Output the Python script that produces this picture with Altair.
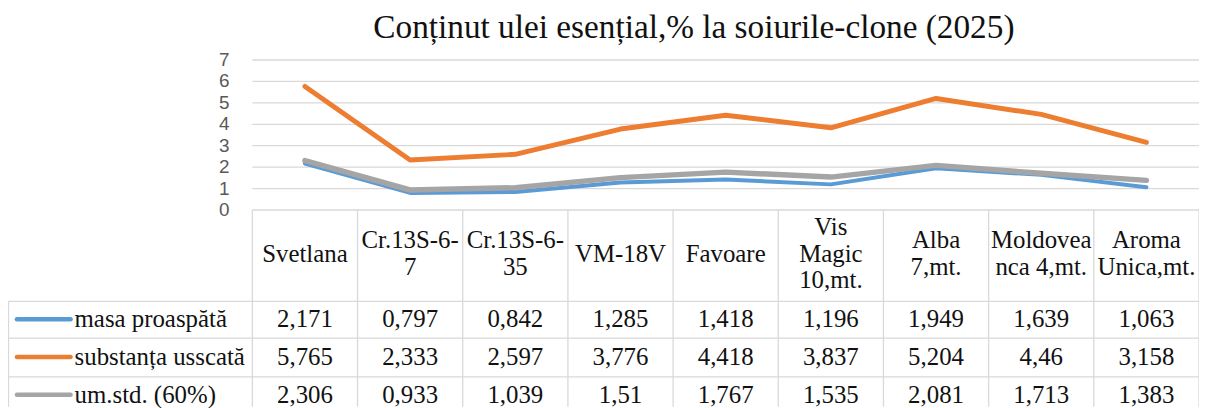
import altair as alt
import pandas as pd

# ---------------- data ----------------
categories = ["Svetlana", "Cr.13S-6-\n7", "Cr.13S-6-\n35", "VM-18V", "Favoare",
              "Vis\nMagic\n10,mt.", "Alba\n7,mt.", "Moldovea\nnca 4,mt.", "Aroma\nUnica,mt."]
series_names = ["masa proaspătă", "substanța usscată", "um.std. (60%)"]
masa = [2.171, 0.797, 0.842, 1.285, 1.418, 1.196, 1.949, 1.639, 1.063]
subst = [5.765, 2.333, 2.597, 3.776, 4.418, 3.837, 5.204, 4.46, 3.158]
umstd = [2.306, 0.933, 1.039, 1.51, 1.767, 1.535, 2.081, 1.713, 1.383]
y_ticks = [0, 1, 2, 3, 4, 5, 6, 7]
colors = ["#5B9BD5", "#ED7D31", "#A5A5A5"]
widths = [4, 5, 5.5]
title_text = "Conținut ulei esențial,% la soiurile-clone (2025)"

series_values = [masa, subst, umstd]

# ---------------- layout helpers ----------------
W, H, PAD_TOP = 1199, 360, 40
XPX = (1207 - 254) / 9.0          # px per category column
YPX = 151 / 7.0                   # px per unit on value axis
XL = -(254 - 8) / XPX             # left edge (legend column)
Y_TOP = 7 + (59 - 48) / YPX
Y_BOT = -(408 - 210) / YPX
LH = 27


def yu(p):
    return (210 - p) / YPX


def xu(p):
    return (p - 254) / XPX


xs = alt.Scale(domain=[XL, 9], nice=False, zero=False)
ys = alt.Scale(domain=[Y_BOT, Y_TOP], nice=False, zero=False)
GRID = "#D9D9D9"
SERIF = "Liberation Serif"
TXT = "#111111"

# gridlines
grid_df = pd.DataFrame({"y": y_ticks, "x": [0] * len(y_ticks), "x2": [9] * len(y_ticks)})
grid = alt.Chart(grid_df).mark_rule(color=GRID, strokeWidth=1.3).encode(
    x=alt.X("x:Q", scale=xs, axis=None), x2="x2:Q",
    y=alt.Y("y:Q", scale=ys, axis=None))

# y tick labels
ytl = alt.Chart(pd.DataFrame({"y": y_ticks, "x": [0] * len(y_ticks)})).mark_text(
    align="right", baseline="middle", dx=-23, font="Liberation Sans", fontSize=19,
    color="#595959").encode(
    x=alt.X("x:Q", scale=xs, axis=None), y=alt.Y("y:Q", scale=ys, axis=None),
    text=alt.Text("y:Q"))

# table lines
row_bounds = [302, 339, 378]
h_df = pd.DataFrame({"y": [yu(p) for p in row_bounds],
                     "x": [xu(8.5)] * 3, "x2": [9] * 3})
h_lines = alt.Chart(h_df).mark_rule(color=GRID, strokeWidth=1.3).encode(
    x=alt.X("x:Q", scale=xs, axis=None), x2="x2:Q",
    y=alt.Y("y:Q", scale=ys, axis=None))
v_x = list(range(0, 10)) + [xu(8.5)]
v_y = [0] * 10 + [yu(302)]
v_df = pd.DataFrame({"x": v_x, "y": v_y, "y2": [Y_BOT] * len(v_x)})
v_lines = alt.Chart(v_df).mark_rule(color=GRID, strokeWidth=1.3).encode(
    x=alt.X("x:Q", scale=xs, axis=None),
    y=alt.Y("y:Q", scale=ys, axis=None), y2="y2:Q")

# header labels (first line placed so the block is centred in the cell)
hdr_df = pd.DataFrame({
    "x": [i + 0.5 for i in range(len(categories))],
    "y": [yu(254 - (c.count("\n")) * LH / 2.0) for c in categories],
    "t": categories})
hdr = alt.Chart(hdr_df).mark_text(font=SERIF, fontSize=25, color=TXT,
                                  baseline="middle", align="center",
                                  lineBreak="\n", lineHeight=LH).encode(
    x=alt.X("x:Q", scale=xs, axis=None), y=alt.Y("y:Q", scale=ys, axis=None),
    text="t:N")

# table values
row_centers = [320, 358, 396]
rows = []
for r, vals in enumerate(series_values):
    for i, v in enumerate(vals):
        rows.append({"x": i + 0.5, "y": yu(row_centers[r]),
                     "t": str(v).replace(".", ",")})
val_df = pd.DataFrame(rows)
vals_txt = alt.Chart(val_df).mark_text(font=SERIF, fontSize=25, color=TXT,
                                       baseline="middle", align="center").encode(
    x=alt.X("x:Q", scale=xs, axis=None), y=alt.Y("y:Q", scale=ys, axis=None),
    text="t:N")

# legend column
leg_layers = []
for r, name in enumerate(series_names):
    ldf = pd.DataFrame({"x": [xu(17)], "x2": [xu(71)], "y": [yu(row_centers[r])],
                        "tx": [xu(75)], "t": [name]})
    leg_layers.append(alt.Chart(ldf).mark_rule(color=colors[r], strokeWidth=4.5,
                                               strokeCap="round").encode(
        x=alt.X("x:Q", scale=xs, axis=None), x2="x2:Q",
        y=alt.Y("y:Q", scale=ys, axis=None)))
    leg_layers.append(alt.Chart(ldf).mark_text(font=SERIF, fontSize=25, color=TXT,
                                               align="left", baseline="middle").encode(
        x=alt.X("tx:Q", scale=xs, axis=None), y=alt.Y("y:Q", scale=ys, axis=None),
        text="t:N"))

# lines
line_layers = []
for r, name in enumerate(series_names):
    ldf = pd.DataFrame({"pos": [i + 0.5 for i in range(len(categories))],
                        "value": series_values[r]})
    line_layers.append(alt.Chart(ldf).mark_line(
        color=colors[r], strokeWidth=widths[r], strokeCap="round",
        strokeJoin="round").encode(
        x=alt.X("pos:Q", scale=xs, axis=None),
        y=alt.Y("value:Q", scale=ys, axis=None)))

chart = alt.layer(grid, ytl, h_lines, v_lines, hdr, vals_txt, *leg_layers,
                  *line_layers).properties(
    width=W, height=H,
    autosize=alt.AutoSizeParams(type="none"),
    padding={"left": 0, "top": PAD_TOP, "right": 0, "bottom": 0},
    title=alt.TitleParams(text=title_text, font=SERIF, fontSize=33.5,
                          fontWeight="normal", color=TXT, anchor="middle",
                          frame="group", dx=91, dy=34, offset=12,
                          baseline="alphabetic"),
).configure_view(stroke=None)

chart.save("out.html", embed_options={"renderer": "svg", "actions": False})
